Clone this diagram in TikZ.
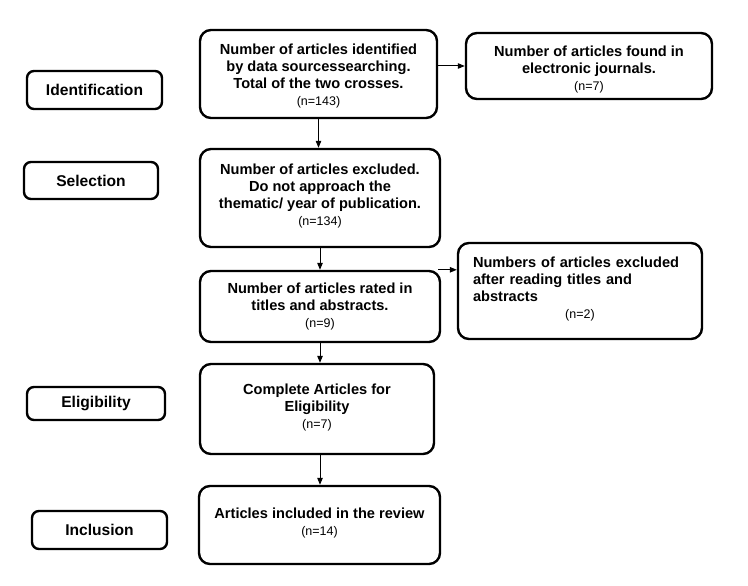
\documentclass[tikz,border=0pt]{standalone}
\usepackage{fontspec}
\setmainfont{Liberation Sans}
\usetikzlibrary{arrows.meta}
\newcommand\ncount[1]{{\mdseries\fontsize{12.5}{17}\selectfont #1}}
\begin{document}
\begin{tikzpicture}[x=1pt,y=-1pt,
  box/.style={draw, line width=2.4pt, rounded corners=11pt, inner sep=0pt},
  txt/.style={align=center, inner sep=0pt, font=\fontsize{14.6}{17}\selectfont\bfseries},
  lab/.style={draw, line width=2.4pt, rounded corners=7pt, inner sep=0pt,
    font=\fontsize{15.6}{18}\selectfont\bfseries},
  arr/.style={line width=1pt, -{Triangle[length=7pt,width=5.5pt]}}]
\useasboundingbox[fill=white] (0,0) rectangle (748,586);
% stage labels
\node[lab, minimum width=135pt, minimum height=38pt] (id)  at (94.5,90)   {Identification};
\node[lab, minimum width=134pt, minimum height=37pt] (sel) at (91,180.5)  {Selection};
\node[lab, minimum width=138pt, minimum height=33pt] (eli) at (96,403.5)  {Eligibility};
\node[lab, minimum width=135pt, minimum height=38pt] (inc) at (99.5,530)  {Inclusion};
% boxes
\node[box, minimum width=237pt, minimum height=88pt] (b1) at (318.5,74) {};
\node[box, minimum width=246pt, minimum height=66pt] (r1) at (589,66) {};
\node[box, minimum width=240pt, minimum height=98pt] (b2) at (320,198) {};
\node[box, minimum width=240pt, minimum height=71pt] (b3) at (320,306.5) {};
\node[box, minimum width=244pt, minimum height=96pt] (r2) at (580,291) {};
\node[box, minimum width=234pt, minimum height=90pt] (b4) at (317,409) {};
\node[box, minimum width=241pt, minimum height=78pt] (b5) at (319.5,525) {};
% texts
\node[txt] (b1t) at ([yshift=-2.5pt]b1.center)
  {Number of articles identified\\by data sourcessearching.\\Total of the two crosses.\\\ncount{(n=143)}};
\node[txt] (r1t) at ([yshift=-3.5pt]r1.center)
  {Number of articles found in\\electronic journals.\\\ncount{(n=7)}};
\node[txt] (b2t) at ([yshift=2pt]b2.center)
  {Number of articles excluded.\\Do not approach the\\thematic/ year of publication.\\\ncount{(n=134)}};
\node[txt] (b3t) at ([yshift=0pt]b3.center)
  {Number of articles rated in\\titles and abstracts.\\\ncount{(n=9)}};
\node[txt, text width=214pt, align=left] (r2t) at ([yshift=1.5pt]r2.center)
  {Numbers of articles excluded\\after reading titles and\\abstracts\\\makebox[214pt][c]{\ncount{(n=2)}}};
\node[txt] (b4t) at ([yshift=1.5pt]b4.center)
  {Complete Articles for\\Eligibility\\\ncount{(n=7)}};
\node[txt] (b5t) at ([yshift=2pt]b5.center)
  {Articles included in the review\\\ncount{(n=14)}};
% connectors
\draw[arr] (r1.west -| b1.east) -- (r1.west);
\draw[arr] (b1.south) -- (b1.south |- b2.north);
\draw[arr] (b2.south) -- (b3.north);
\draw[arr] ([xshift=-3pt]b3.north east) -- (b3.north east -| r2.west);
\draw[arr] (b3.south) -- (b3.south |- b4.north);
\draw[arr] (b3.south |- b4.south) -- (b3.south |- b5.north);
\end{tikzpicture}
\end{document}
